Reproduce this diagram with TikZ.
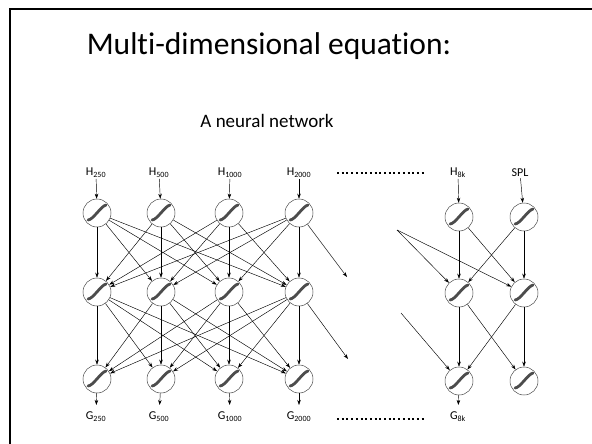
\documentclass[tikz,border=0pt]{standalone}
\usepackage{fontspec}
\setmainfont{Carlito}[Ligatures=NoCommon]
\usetikzlibrary{arrows.meta}
\tikzset{
  neuron/.style={circle,draw=black!70,line width=0.5pt,minimum size=28pt,inner sep=0pt,
    path picture={\draw[line width=2.8pt,line cap=round]
      ([shift={(-9pt,-7pt)}]path picture bounding box.center) .. controls +(5pt,0pt) and +(-5pt,-1pt) .. ([shift={(9pt,8pt)}]path picture bounding box.center);}},
  arr/.style={-{Stealth[length=5pt,width=3.5pt]},line width=0.45pt},
  lbl/.style={font=\fontsize{12}{13}\selectfont,inner sep=1pt},
  dotline/.style={line width=2pt,dash pattern=on 2pt off 2.7pt},
}
\begin{document}
\begin{tikzpicture}[x=1pt,y=-1pt]
 \useasboundingbox (0,0) rectangle (592,444);
 \draw[line width=2pt] (10,444) -- (10,9) -- (592,9);
 \node[font=\fontsize{31.5}{36}\selectfont,anchor=base] (title) at (269,55) {Multi-dimensional equation:};
 \node[font=\fontsize{19}{22}\selectfont,anchor=base] (sub) at (267,128) {A neural network};
 % neurons
 \foreach \x [count=\c] in {97,161,229,299}{
  \node[neuron] (n1\c) at (\x,213) {};
  \node[neuron] (n2\c) at (\x,292) {};
  \node[neuron] (n3\c) at (\x,379) {};
 }
 \foreach \x [count=\c from 5] in {459,524}{
  \node[neuron] (n1\c) at (\x,217) {};
  \node[neuron] (n2\c) at (\x,293) {};
  \node[neuron] (n3\c) at (\x,381) {};
 }
 % inputs and outputs
 \foreach \x/\t [count=\c] in {96/250,159/500,230/1000,299/2000,458/8k}{
  \node[lbl] (h\c) at (\x,173) {H\textsubscript{\t}};
  \node[lbl] (g\c) at (\x,417) {G\textsubscript{\t}};
 }
 \node[lbl] (h6) at (520,173) {SPL};
 \foreach \c in {1,...,6}{\draw[arr] (h\c) -- (n1\c);}
 \foreach \c in {1,...,5}{\draw[arr,shorten >=6pt] (n3\c) -- (g\c);}
 % layers
 \foreach \i in {1,...,4}{\foreach \j in {1,...,4}{
  \draw[arr] (n1\i) -- (n2\j);
  \draw[arr] (n2\i) -- (n3\j);
 }}
 \foreach \i in {5,6}{\foreach \j in {5,6}{
  \draw[arr] (n1\i) -- (n2\j);
  \draw[arr] (n2\i) -- (n3\j);
 }}
 \coordinate (o1) at (347,277);
 \coordinate (o2) at (348,359);
 \coordinate (i1) at (397,230);
 \coordinate (i2) at (401,313);
 \draw[arr] (n14) -- (o1);
 \draw[arr] (n24) -- (o2);
 \draw[arr] (i1) -- (n25);
 \draw[arr] (i1) -- (n26);
 \draw[arr] (i2) -- (n35);
 % dots
 \coordinate (d1) at (337,173);
 \coordinate (d2) at (425,173);
 \coordinate (d3) at (337,419);
 \coordinate (d4) at (425,419);
 \draw[dotline] (d1) -- (d2);
 \draw[dotline] (d3) -- (d4);
\end{tikzpicture}
\end{document}
